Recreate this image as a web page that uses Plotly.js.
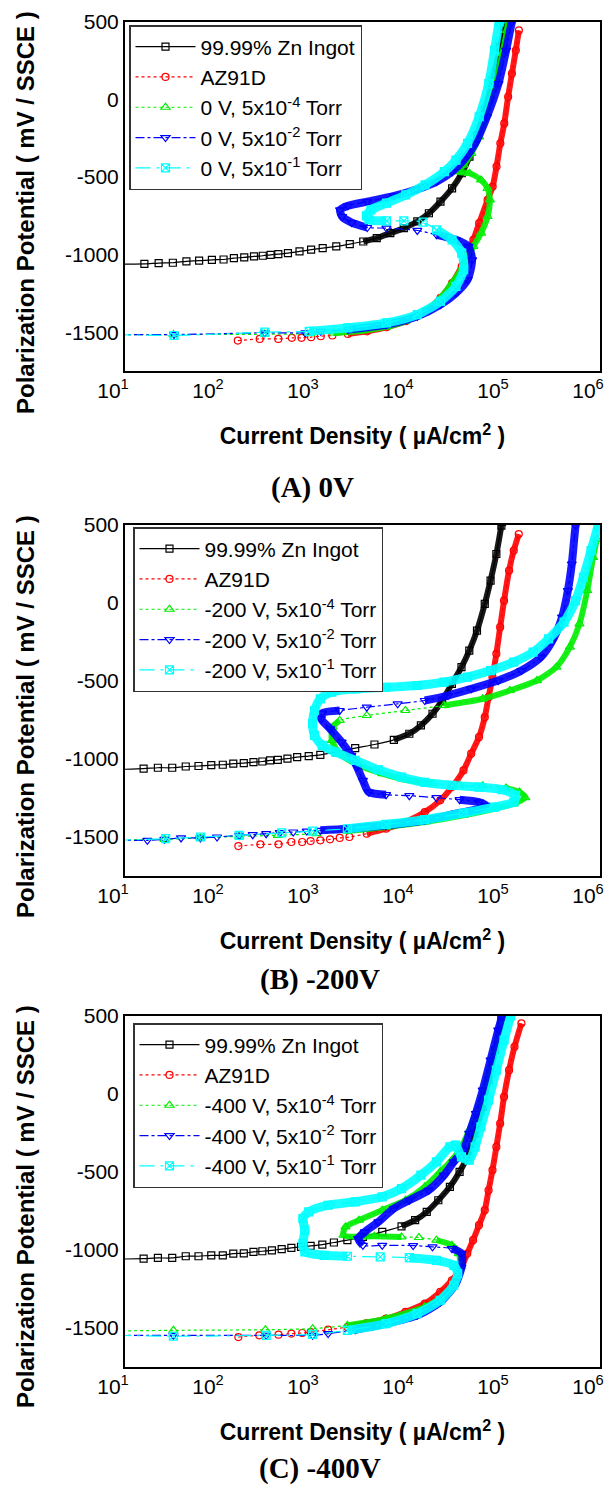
<!DOCTYPE html>
<html><head><meta charset="utf-8">
<script src="https://cdn.plot.ly/plotly-3.0.1.min.js"></script>
<style>html,body{margin:0;padding:0;background:#fff}#chart{width:606px;height:1488px}</style>
</head><body><div id="chart"></div>
<script>
// ---------- DATA (current density in µA/cm², potential in mV vs SSCE) ----------
const X_TICK_VALS = [10, 100, 1000, 10000, 100000, 1000000];
const X_TICK_TEXT = ['10<sup>1</sup>', '10<sup>2</sup>', '10<sup>3</sup>', '10<sup>4</sup>', '10<sup>5</sup>', '10<sup>6</sup>'];
const Y_TICK_VALS = [-1500, -1000, -500, 0, 500];
const Y_TICK_TEXT = ['-1500', '-1000', '-500', '0', '500'];

const NAMES_A = ['99.99% Zn Ingot', 'AZ91D', '0 V, 5x10<sup>-4</sup> Torr', '0 V, 5x10<sup>-2</sup> Torr', '0 V, 5x10<sup>-1</sup> Torr'];
const NAMES_B = ['99.99% Zn Ingot', 'AZ91D', '-200 V, 5x10<sup>-4</sup> Torr', '-200 V, 5x10<sup>-2</sup> Torr', '-200 V, 5x10<sup>-1</sup> Torr'];
const NAMES_C = ['99.99% Zn Ingot', 'AZ91D', '-400 V, 5x10<sup>-4</sup> Torr', '-400 V, 5x10<sup>-2</sup> Torr', '-400 V, 5x10<sup>-1</sup> Torr'];
const CAPTIONS = ['(A) 0V', '(B) -200V', '(C) -400V'];
const X_TITLE = 'Current Density ( µA/cm<sup>2</sup> )';
const Y_TITLE = 'Polarization Potential ( mV / SSCE )';

// Panel A (0 V)
const ZN_A_I = [8,16,22.6,31.9,44.3,60.3,82.2,109,140,180,228,282,341,411,519,687,910,1205,1675,2323,3221,4467,6209,8610,11940,15810,20940,27730,35080,42270,50930,61520,74130,89330,98170,101000];
const ZN_A_E = [-1060,-1060,-1054,-1052,-1043,-1039,-1033,-1031,-1022,-1018,-1011,-1007,-1001,-996,-990,-979,-968,-958,-947,-932,-915,-893,-861,-829,-786,-733,-658,-572,-475,-368,-229,-68,125,339,468,520];
const AZ_A_I = [154,262,411,570,721,910,1151,1524,2218,3540,5649,9016,14420,20940,27730,35080,41110,46450,53460,65610,74130,81470,89330,98170,107900,118300,130000,140000];
const AZ_A_E = [-1554,-1543,-1543,-1536,-1536,-1532,-1526,-1521,-1511,-1494,-1468,-1429,-1365,-1279,-1183,-1076,-990,-904,-797,-647,-561,-432,-282,-154,18,168,318,446];
const G_A_I = [8,32.4,295,891,1585,3162,5623,8913,14450,20890,27540,36310,42660,46450,55980,65610,69340,65610,55980,42270,31920,36730,44260,53460,64420,77620,93760,104700,108400];
const G_A_E = [-1515,-1515,-1513,-1510,-1505,-1490,-1465,-1430,-1365,-1280,-1183,-1076,-990,-947,-861,-754,-647,-572,-518,-475,-465,-422,-347,-240,-89,82,296,446,520];
const B_A_I = [8,32.8,296,791,1151,2218,5649,11940,20940,30480,40360,45080,41110,30480,19050,11940,5649,3540,2432,1928,1837,2218,3540,6808,11940,19050,27730,36730,48640,64420,85310,102800,118300,122000];
const B_A_E = [-1515,-1515,-1504,-1504,-1494,-1483,-1451,-1397,-1322,-1247,-1161,-1033,-947,-904,-872,-844,-829,-825,-793,-754,-711,-685,-658,-621,-578,-529,-465,-390,-282,-111,103,318,500,520];
const C_A_I = [8,32.8,296,869,2218,5649,11940,20940,30480,36730,35080,27730,19050,13740,8610,5649,3707,3475,3882,5649,9016,14420,23010,30480,40360,53460,67450,77620,86900,89000];
const C_A_E = [-1515,-1521,-1500,-1494,-1472,-1440,-1386,-1301,-1204,-1097,-990,-904,-840,-790,-782,-782,-775,-750,-711,-668,-615,-550,-465,-390,-282,-111,103,318,500,520];

// Panel B (-200 V)
const ZN_B_I = [8,15.7,22.2,31.4,43.6,59.4,80.9,107,138,178,225,279,337,406,513,649,859,1138,1656,2649,4227,6761,9840,13030,17260,21830,27610,34830,42070,50700,61240,70470,81100,91620,93000];
const ZN_B_E = [-1067,-1062,-1056,-1056,-1048,-1045,-1039,-1037,-1030,-1026,-1020,-1016,-1009,-1005,-998,-988,-981,-973,-956,-930,-907,-877,-838,-785,-710,-625,-518,-411,-305,-177,-6,144,314,496,520];
const AZ_B_I = [156,266,413,564,733,899,1138,1439,1820,2301,3508,5598,8954,14320,20800,27610,36560,44060,53210,61240,67140,73790,81100,88920,97720,110400,123600,139600];
const AZ_B_E = [-1558,-1547,-1547,-1532,-1532,-1526,-1521,-1515,-1506,-1500,-1479,-1447,-1404,-1340,-1265,-1180,-1073,-966,-860,-732,-604,-475,-326,-155,15,208,336,442];
const G_B_I = [8,26,62.2,159,406,1035,2193,5598,14320,36560,77270,123600,163700,142200,102500,58340,33270,17260,8954,5105,2904,1820,1507,1535,1820,3508,8954,22860,58340,112500,216800,346700,480800,608100,734500,845300,926800];
const G_B_E = [-1521,-1515,-1506,-1496,-1489,-1479,-1462,-1436,-1404,-1361,-1319,-1287,-1248,-1212,-1186,-1171,-1167,-1158,-1133,-1094,-1041,-966,-881,-796,-753,-721,-689,-657,-614,-561,-497,-411,-283,-134,80,293,410];
const B_B_I = [8,17.2,26,38.9,62.2,93.1,159,221,306,426,590,820,1138,2193,5598,14320,30270,53210,62950,53210,33270,18970,9840,5598,3673,3192,2773,2410,1905,1439,1159,1191,1820,3508,7413,14320,25120,44060,84920,148900,238200,315500,399000,459200,504700,553400,565000];
const B_B_E = [-1521,-1521,-1515,-1506,-1506,-1500,-1489,-1485,-1479,-1472,-1468,-1462,-1457,-1447,-1425,-1393,-1351,-1319,-1297,-1276,-1261,-1248,-1235,-1229,-1212,-1137,-1052,-977,-892,-806,-742,-706,-689,-668,-646,-625,-593,-550,-497,-433,-347,-241,-91,80,250,496,520];
const C_B_I = [8,26.8,62.2,159,446,944,2193,5598,14320,36560,77270,123600,129400,93330,53210,27610,14320,8147,4645,2649,1656,1191,989,944,989,1138,1507,2649,5598,11860,22860,40090,70470,123600,197700,287100,417800,553400,668300,805400,955000,990000];
const C_B_E = [-1521,-1511,-1500,-1489,-1474,-1462,-1447,-1419,-1389,-1346,-1308,-1276,-1233,-1197,-1180,-1169,-1150,-1116,-1069,-1009,-956,-913,-849,-774,-689,-614,-571,-550,-540,-529,-507,-475,-433,-379,-315,-230,-123,15,165,336,496,530];

// Panel C (-400 V)
const ZN_C_I = [8,15.7,22.2,31.4,43.6,59.4,80.9,107,138,178,225,279,352,446,564,713,899,1194,1581,2193,3192,5105,8147,11320,15000,19860,26300,33270,40090,48420,58340,67140,78890,91620,93500];
const ZN_C_E = [-1059,-1055,-1051,-1051,-1040,-1040,-1034,-1034,-1023,-1021,-1012,-1008,-1002,-995,-987,-980,-974,-965,-952,-937,-916,-884,-848,-809,-756,-681,-595,-499,-403,-253,-82,89,282,500,530];
const AZ_C_I = [156,259,413,564,733,899,1374,2193,3508,5598,8954,14320,20800,27610,34830,40090,46130,53210,61240,67140,73790,81100,88920,97720,110400,125900,148900];
const AZ_C_E = [-1558,-1547,-1543,-1536,-1532,-1526,-1511,-1494,-1468,-1440,-1397,-1344,-1269,-1194,-1109,-1023,-937,-841,-745,-617,-488,-339,-189,-18,153,303,453];
const G_C_I = [8,32.3,301,944,2193,5598,14320,22860,30270,33880,32660,27610,18970,12420,8147,4227,1995,2094,2904,5105,8954,14320,20800,27610,34830,42070,50700,61240,73790,84920,95060,97000];
const G_C_E = [-1519,-1515,-1511,-1504,-1483,-1440,-1365,-1290,-1194,-1109,-1023,-970,-937,-920,-916,-912,-905,-852,-809,-745,-681,-595,-499,-424,-338,-232,-103,47,239,367,500,530];
const B_C_I = [8,32.3,306,944,1374,2649,5598,11860,20800,30270,34830,34830,27610,17260,10790,5105,3192,2851,3342,4645,6761,9840,15700,22860,28910,36560,42070,49320,58340,70470,84920,93330,95000];
const B_C_E = [-1547,-1547,-1547,-1547,-1536,-1511,-1472,-1419,-1333,-1216,-1109,-1023,-991,-980,-972,-970,-970,-927,-884,-820,-734,-681,-617,-520,-435,-360,-253,-125,25,218,410,500,530];
const C_C_I = [8,32.3,306,944,2193,5598,11860,20800,28910,31770,28910,18970,9840,4864,2193,1250,782,746,782,746,859,1374,2649,5105,8147,13030,18970,26300,30270,34830,42070,48420,55720,67140,81100,97720,114600,117000];
const C_C_E = [-1547,-1553,-1547,-1541,-1515,-1472,-1408,-1322,-1226,-1151,-1098,-1066,-1049,-1044,-1040,-1034,-1012,-959,-873,-798,-756,-713,-691,-659,-606,-520,-435,-338,-328,-403,-424,-339,-210,-39,153,346,500,530];

// ---------- STYLES ----------
const FONT = 'Arial, "Liberation Sans", sans-serif';
const SERIF = '"Times New Roman", "Liberation Serif", serif';
const STYLE = [
  {color:'#000000', dash:'solid',       symbol:'square-open',        size:7, band:6},
  {color:'#ff0000', dash:'dot',         symbol:'circle-open',        size:7, band:6},
  {color:'#00ee00', dash:'dot',         symbol:'triangle-up-open',   size:8, band:6},
  {color:'#0000ff', dash:'dashdot',     symbol:'triangle-down-open', size:8, band:8},
  {color:'#00ffff', dash:'longdashdot', symbol:'square-x-open',      size:8, band:9}
];
// index ranges drawn as dense (thick) bands
const PANELS = [
  {xa:'x',  ya:'y',  legend:'legend',  names:NAMES_A, series:[[ZN_A_I,ZN_A_E],[AZ_A_I,AZ_A_E],[G_A_I,G_A_E],[B_A_I,B_A_E],[C_A_I,C_A_E]],
   bands:[[[20,35]],[[8,27]],[[4,28]],[[5,14],[17,33]],[[3,12],[15,29]]]},
  {xa:'x2', ya:'y2', legend:'legend2', names:NAMES_B, series:[[ZN_B_I,ZN_B_E],[AZ_B_I,AZ_B_E],[G_B_I,G_B_E],[B_B_I,B_B_E],[C_B_I,C_B_E]],
   bands:[[[21,34]],[[10,27]],[[6,14],[17,24],[27,36]],[[12,20],[23,32],[35,46]],[[6,41]]]},
  {xa:'x3', ya:'y3', legend:'legend3', names:NAMES_C, series:[[ZN_C_I,ZN_C_E],[AZ_C_I,AZ_C_E],[G_C_I,G_C_E],[B_C_I,B_C_E],[C_C_I,C_C_E]],
   bands:[[[22,34]],[[7,26]],[[4,12],[14,31]],[[5,12],[16,32]],[[4,12],[14,37]]]}
];

const traces = [];
PANELS.forEach((p, pi) => {
  p.series.forEach((s, si) => {
    const st = STYLE[si];
    const grp = 'p' + pi + 's' + si;
    p.bands[si].forEach(r => {
      traces.push({
        type:'scatter', mode:'lines', xaxis:p.xa, yaxis:p.ya,
        x:s[0].slice(r[0], r[1] + 1), y:s[1].slice(r[0], r[1] + 1),
        line:{color:st.color, width:st.band, shape:'spline', smoothing:0.7},
        opacity:0.9, showlegend:false, legendgroup:grp, hoverinfo:'skip'
      });
    });
    traces.push({
      type:'scatter', mode:'lines+markers', xaxis:p.xa, yaxis:p.ya, legend:p.legend,
      name:p.names[si], legendgroup:grp,
      x:s[0], y:s[1],
      line:{color:st.color, width:1.2, dash:st.dash, shape:'spline', smoothing:0.7},
      marker:{symbol:st.symbol, size:st.size, color:st.color, line:{color:st.color, width:1.2}}
    });
  });
});

const XDOM = [125/606, 600/606];
const YDOMS = [[1-371/1488, 1-22/1488], [1-876/1488, 1-525/1488], [1-1367/1488, 1-1016/1488]];

function xax(anchor) {
  return {type:'log', range:[1,6], domain:XDOM, anchor:anchor,
    showline:true, linecolor:'#000', linewidth:2, mirror:true, ticks:'', showgrid:false, zeroline:false,
    tickmode:'array', tickvals:X_TICK_VALS, ticktext:X_TICK_TEXT,
    ticklabeloverflow:'allow', ticklabelshift:-12,
    tickfont:{family:FONT, size:21, color:'#000'},
    title:{text:X_TITLE, font:{family:FONT, size:23, color:'#000', weight:700}, standoff:27}};
}
function yax(anchor, dom) {
  return {range:[-1750,500], domain:dom, anchor:anchor,
    showline:true, linecolor:'#000', linewidth:2, mirror:true, ticks:'', showgrid:false, zeroline:false,
    tickmode:'array', tickvals:Y_TICK_VALS, ticktext:Y_TICK_TEXT,
    tickfont:{family:FONT, size:21, color:'#000'}};
}
function leg(x, y) {
  return {x:x, y:y, xanchor:'left', yanchor:'top', xref:'paper', yref:'paper',
    bgcolor:'#ffffff', bordercolor:'#333333', borderwidth:1.5,
    font:{family:FONT, size:21, color:'#000'}, itemwidth:60, tracegroupgap:0, traceorder:'normal'};
}

const annotations = [];
// panel captions
[[312, 487], [320, 979], [320, 1468]].forEach((c, i) => {
  annotations.push({text:CAPTIONS[i], x:c[0]/606, y:1-c[1]/1488, xref:'paper', yref:'paper',
    xanchor:'center', yanchor:'middle', showarrow:false,
    font:{family:SERIF, size:29, color:'#000', weight:700}});
});
// vertical axis titles
[213, 717, 1207].forEach(yc => {
  annotations.push({text:Y_TITLE, x:25/606, y:1-yc/1488, xref:'paper', yref:'paper',
    xanchor:'center', yanchor:'middle', textangle:-90, showarrow:false,
    font:{family:FONT, size:24, color:'#000', weight:700}});
});

const layout = {
  width:606, height:1488, margin:{l:0, r:0, t:0, b:0},
  paper_bgcolor:'#ffffff', plot_bgcolor:'#ffffff', showlegend:true,
  xaxis:xax('y'), yaxis:yax('x', YDOMS[0]),
  xaxis2:xax('y2'), yaxis2:yax('x2', YDOMS[1]),
  xaxis3:xax('y3'), yaxis3:yax('x3', YDOMS[2]),
  legend:leg(129/606, 1-25/1488),
  legend2:leg(133/606, 1-527/1488),
  legend3:leg(133/606, 1-1023/1488),
  annotations:annotations
};

Plotly.newPlot('chart', traces, layout, {staticPlot:true, displayModeBar:false});
</script></body></html>
